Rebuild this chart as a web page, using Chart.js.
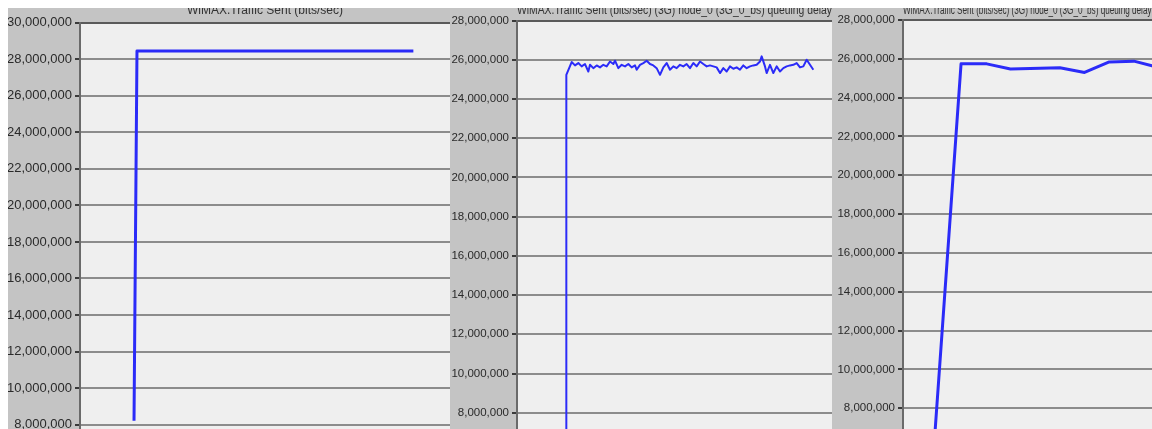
<!DOCTYPE html>
<html>
<head>
<meta charset="utf-8">
<script src="https://cdn.jsdelivr.net/npm/chart.js@4.4.1/dist/chart.umd.min.js"></script>
<style>
  html, body { margin: 0; padding: 0; background: #fff; }
  #stage { position: relative; width: 1152px; height: 429px; overflow: hidden; }
  .panel { position: absolute; top: 0; background: #c4c4c4; }
  #topband { position: absolute; left: 0; top: 0; width: 1152px; height: 8px; background: #fff; z-index: 5; }
</style>
</head>
<body>
<div id="stage">
  <div class="panel" style="left:8px;width:442px;height:472px"><canvas id="wimaxChart"></canvas></div>
  <div class="panel" style="left:450px;width:382px;height:462px"><canvas id="nodeChart"></canvas></div>
  <div class="panel" style="left:832px;width:340px;height:457px"><canvas id="queueChart"></canvas></div>
  <div id="topband"></div>
</div>
<script>
// left panel
const wimaxTitle = "WiMAX.Traffic Sent (bits/sec)";
const wimaxTime = [14.6, 15.4, 90.1];
const wimaxSent = [8220000, 28450000, 28450000];

// middle panel
const nodeTitle = "WiMAX.Traffic Sent (bits/sec) (3G) node_0 (3G_0_bs) queuing delay";
const nodeTime = [0, 0.1, 1.7, 2.7, 3.7, 4.7, 5.7, 6.7, 7.2, 8.2, 9.2, 10.2, 11.2, 12.2, 13.2, 14.2, 14.7,
  15.7, 16.7, 17.7, 18.7, 19.7, 20.7, 21.2, 22.2, 23.2, 24.2, 25.2, 26.2, 27.2, 28.2, 29.2, 30.2, 31.2,
  32.2, 33.2, 34.2, 35.2, 36.2, 37.2, 38.2, 39.2, 40.2, 41.2, 42.2, 43.2, 44.2, 45.2, 46.2, 47.2, 48.2,
  49.2, 50.2, 51.2, 52.2, 53.2, 54.2, 55.2, 56.2, 57.2, 58.2, 58.7, 59.7, 60.2, 61.2, 62.2, 63.2, 64.2,
  65.2, 66.2, 67.2, 68.2, 69.2, 70.2, 71.2, 72.2, 73.2, 74.2];
const nodeSent = [5000000, 25230000, 25880000, 25710000, 25830000, 25660000, 25780000, 25400000, 25740000,
  25570000, 25710000, 25610000, 25740000, 25660000, 25910000, 25780000, 25950000, 25570000, 25740000,
  25660000, 25780000, 25610000, 25710000, 25490000, 25740000, 25830000, 25950000, 25780000, 25710000,
  25570000, 25230000, 25610000, 25830000, 25490000, 25660000, 25570000, 25740000, 25660000, 25780000,
  25570000, 25830000, 25660000, 25910000, 25780000, 25660000, 25710000, 25660000, 25610000, 25320000,
  25570000, 25400000, 25660000, 25540000, 25610000, 25490000, 25710000, 25570000, 25660000, 25710000,
  25740000, 25910000, 26170000, 25660000, 25320000, 25740000, 25320000, 25660000, 25400000, 25570000,
  25660000, 25710000, 25740000, 25830000, 25610000, 25660000, 26000000, 25740000, 25490000];

// right panel
const queueTitle = "WiMAX.Traffic Sent (bits/sec) (3G) node_0 (3G_0_bs) queuing delay (sec)";
const queueTime = [-1.43, 0, 1.04, 2, 4, 5, 6, 7, 8];
const queueSent = [0, 25740000, 25740000, 25480000, 25540000, 25300000, 25840000, 25880000, 25550000];

const fontFamily = '"Liberation Sans", Arial, sans-serif';

const plotBg = {
  id: "plotBg",
  beforeDraw(chart) {
    const { ctx, chartArea: a } = chart;
    ctx.save();
    ctx.fillStyle = "#efefef";
    ctx.fillRect(a.left, a.top, a.right - a.left, a.bottom - a.top);
    ctx.restore();
  }
};

function createChart(id, title, times, values, opts) {
  return new Chart(document.getElementById(id), {
    type: "line",
    data: {
      datasets: [{
        data: times.map((t, i) => ({ x: t, y: values[i] })),
        borderColor: "#2b2bf8",
        borderWidth: opts.lineWidth,
        borderJoinStyle: "round",
        pointRadius: 0,
        tension: 0,
        fill: false
      }]
    },
    options: {
      responsive: true,
      maintainAspectRatio: false,
      animation: false,
      layout: { padding: { left: 0, right: 0, top: 0, bottom: 10 } },
      plugins: {
        legend: { display: false },
        tooltip: { enabled: false },
        title: {
          display: true,
          text: title,
          fullSize: false,
          color: "#333",
          font: { family: fontFamily, size: 12, weight: "normal" },
          padding: { top: 3.5, bottom: opts.titleGap }
        }
      },
      scales: {
        x: { type: "linear", display: false, min: opts.xMin, max: opts.xMax },
        y: {
          min: 6000000,
          max: opts.yMax,
          afterFit: s => { s.width = opts.axisWidth; },
          ticks: {
            stepSize: 2000000,
            autoSkip: false,
            color: "#2a2a2a",
            padding: 3,
            font: { family: fontFamily, size: opts.fontSize },
            callback: v => v.toLocaleString("en-US")
          },
          grid: {
            color: ctx => (ctx.tick && ctx.tick.value === opts.yMax ? "#5a5a5a" : "#8c8c8c"),
            lineWidth: 2,
            tickLength: 5,
            tickColor: "#3a3a3a",
            tickWidth: 2
          },
          border: { color: "#6a6a6a", width: 2 }
        }
      }
    },
    plugins: [plotBg]
  });
}

createChart("wimaxChart", wimaxTitle, wimaxTime, wimaxSent,
  { yMax: 30000000, axisWidth: 72, fontSize: 13, titleGap: 4.8, xMin: 0, xMax: 100, lineWidth: 3 });
createChart("nodeChart", nodeTitle, nodeTime, nodeSent,
  { yMax: 28000000, axisWidth: 67, fontSize: 11.5, titleGap: 2.6, xMin: -14.7, xMax: 79.8, lineWidth: 2 });
createChart("queueChart", queueTitle, queueTime, queueSent,
  { yMax: 28000000, axisWidth: 71, fontSize: 11.5, titleGap: 2.1, xMin: -2.35, xMax: 8.54, lineWidth: 3 });
</script>
</body>
</html>
